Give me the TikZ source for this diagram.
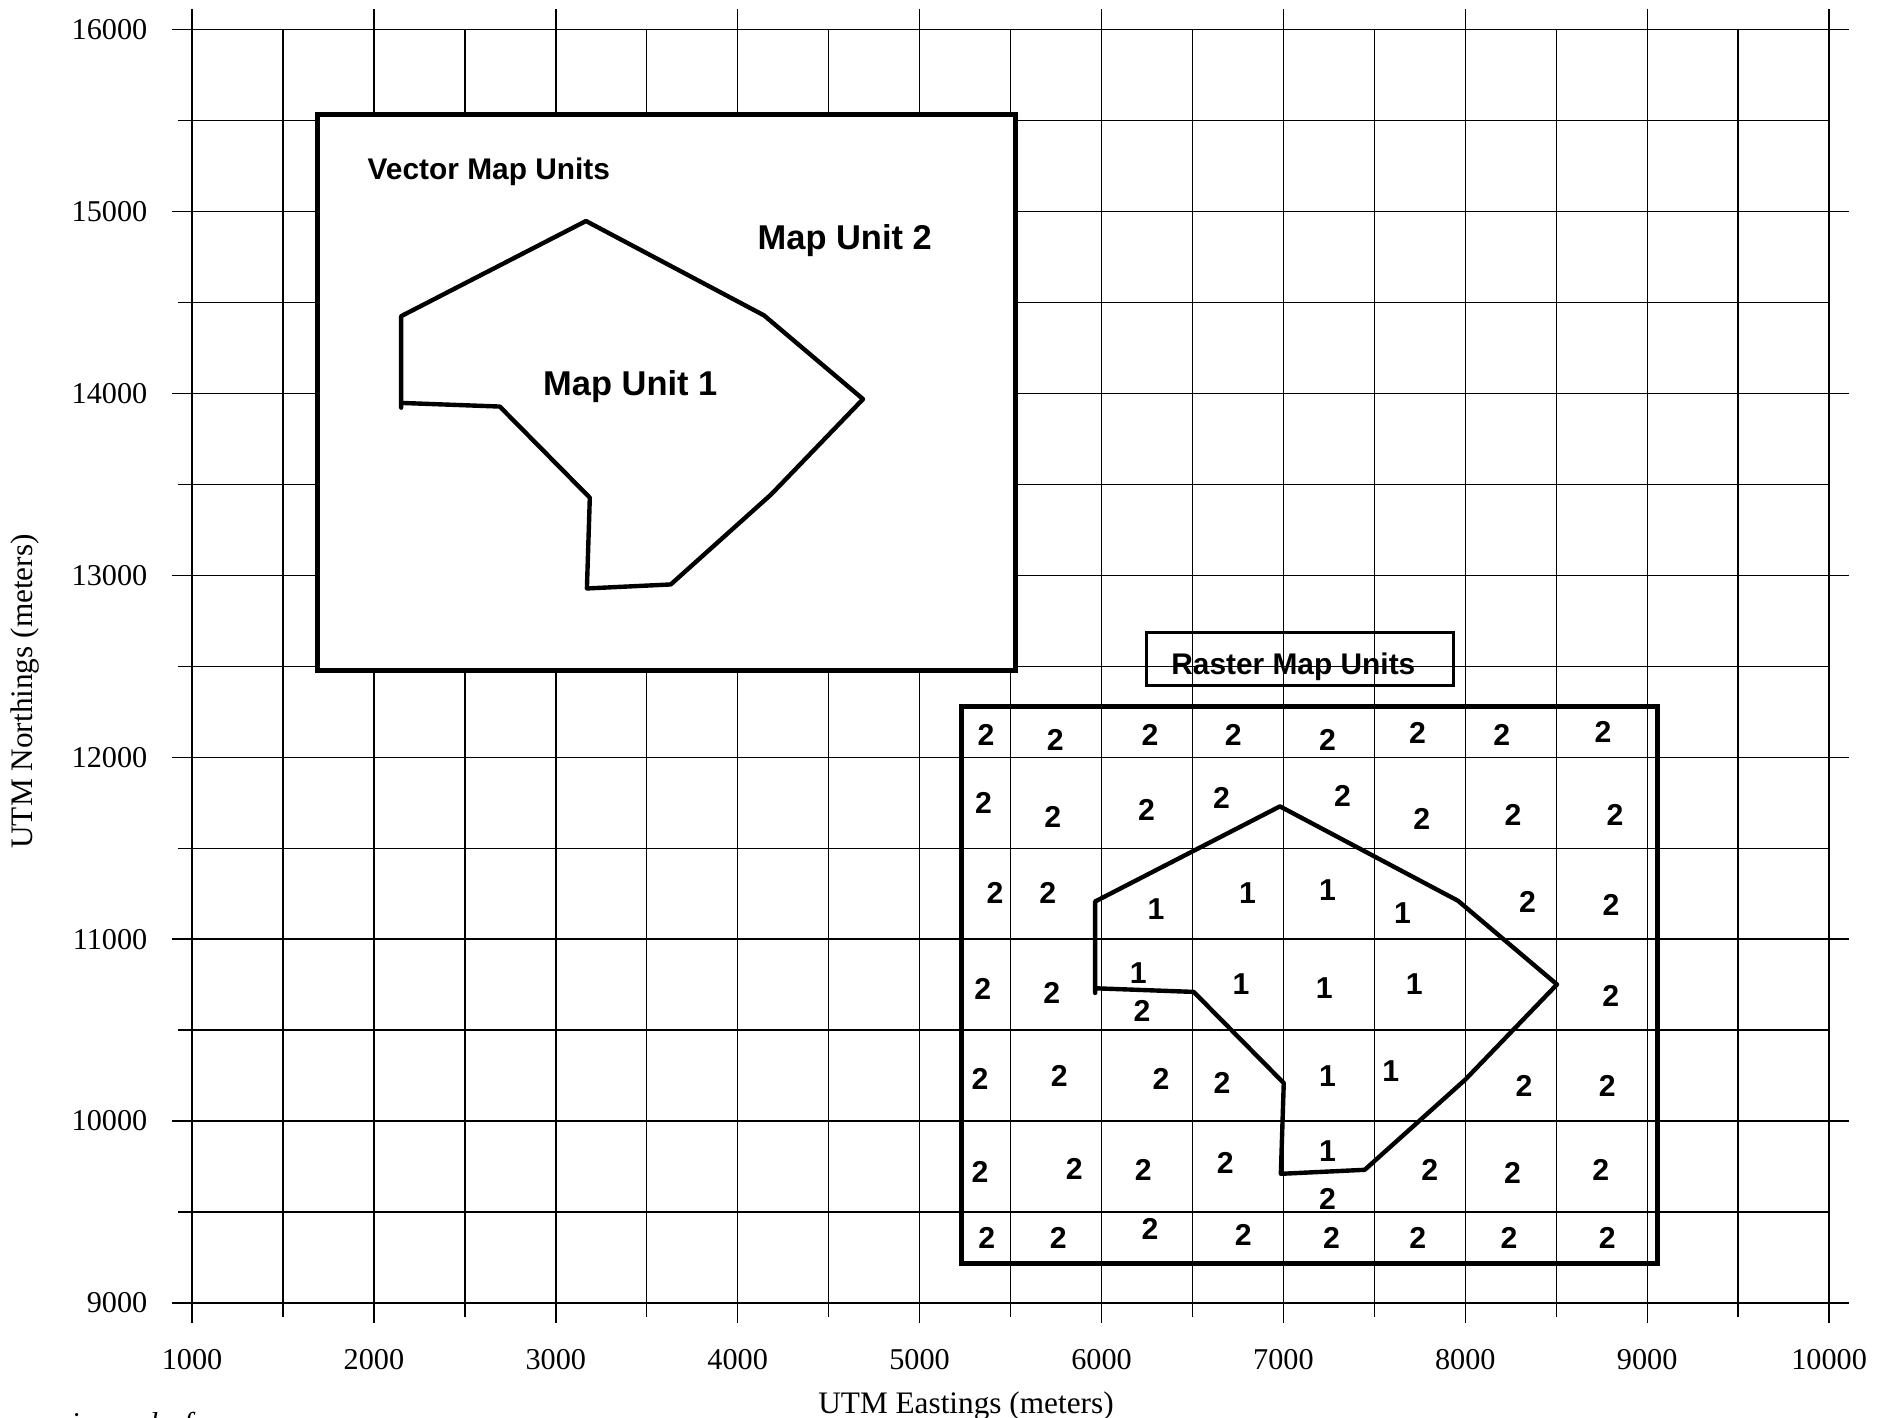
\documentclass[tikz,border=0pt]{standalone}
\usepackage{fontspec}
\setmainfont{Liberation Serif}
\newfontfamily\arialfont{Liberation Sans}
\begin{document}
\begin{tikzpicture}[x=1.819cm,y=1.819cm,
  grid/.style={line width=0.4pt,black},
  axisline/.style={line width=0.65pt,black},
  thickbox/.style={line width=1.5pt,line join=miter},
  polyline/.style={line width=1.25pt,line join=round,line cap=round},
  ticklab/.style={font=\fontsize{8.6pt}{10pt}\selectfont,inner sep=0pt},
  axtitle/.style={font=\fontsize{8.9pt}{10pt}\selectfont,inner sep=0pt},
  lab/.style={font=\arialfont\bfseries\fontsize{8.5pt}{10pt}\selectfont,inner sep=0pt},
  biglab/.style={font=\arialfont\bfseries\fontsize{9.8pt}{11pt}\selectfont,inner sep=0pt},
  dig/.style={font=\arialfont\bfseries\fontsize{8.6pt}{10pt}\selectfont,inner sep=0pt},
  cutlab/.style={font=\itshape\fontsize{8.6pt}{10pt}\selectfont,inner sep=0pt,anchor=base},
  mupoly/.pic={
    \draw[polyline] (2.150,13.922) -- (2.150,14.425) -- (3.166,14.948) -- (4.145,14.429)
      -- (4.689,13.969) -- (4.184,13.445) -- (3.632,12.950) -- (3.171,12.928)
      -- (3.187,13.427) -- (2.692,13.928) -- (2.150,13.948);
  }
]
\useasboundingbox (-0.05552,8.3678) rectangle (10.4118,16.1633);

% grid
\foreach \n in {9,...,16} \draw[grid] (0.89,\n) -- (10.11,\n);
\foreach \n in {9.5,10.5,...,15.5} \draw[grid] (0.923,\n) -- (10,\n);
\foreach \e in {1,...,10} \draw[grid] (\e,8.89) -- (\e,16.115);
\foreach \e in {1.5,2.5,...,9.5} \draw[grid] (\e,8.923) -- (\e,16);
\draw[axisline] (0.89,9) -- (10.11,9);
\draw[axisline] (1,8.89) -- (1,16.115);

% tick labels
\foreach \n in {9,...,16} \node[ticklab,anchor=east] (ylab\n) at (0.758,\n) {\n000};
\foreach \e in {1,...,10} \node[ticklab] (xlab\e) at (\e,8.6866) {\e000};

% axis titles
\node[axtitle,rotate=90] (ytitle) at (0.0819,12.362) {UTM Northings (meters)};
\node[axtitle] (xtitle) at (5.255,8.4355) {UTM Eastings (meters)};

% vector map
\draw[thickbox,fill=white] (1.691,12.478) rectangle (5.528,15.532);
\pic at (0,0) {mupoly};
\node[lab,anchor=base west] (vmu) at (1.962,15.176) {Vector Map Units};
\node[biglab,anchor=base west] (mu2) at (4.106,14.789) {Map Unit 2};
\node[biglab,anchor=base west] (mu1) at (2.927,13.991) {Map Unit 1};

% raster map
\draw[thickbox] (5.231,9.218) rectangle (9.058,12.278);
\pic at (3.815,-3.218) {mupoly};
\draw[line width=0.9pt] (6.249,12.394) rectangle (7.934,12.685);
\node[lab,anchor=base west] (rmu) at (6.380,12.4525) {Raster Map Units};

\coordinate (pxO) at (-0.05552,16.1633);
\begin{scope}[shift={(pxO)},x=0.01cm,y=-0.01cm]
\foreach \px/\py/\d [count=\i] in {
  986.7/735/2, 1056/740/2, 1150.7/735/2, 1234/735/2, 1328.3/740/2, 1418.3/733.3/2, 1502.7/735/2, 1604/732.7/2,
  984/803.3/2, 1053.3/817.3/2, 1147.3/810.7/2, 1222.3/798.3/2, 1343.3/796.7/2, 1422.7/819.3/2, 1514/815/2, 1616/815/2,
  995.7/894/2, 1048.3/894/2, 1156.7/910/1, 1248.3/893.3/1, 1328.3/890.7/1, 1403.3/913.3/1, 1528.5/903/2, 1612/906/2,
  983.3/990/2, 1052.3/993.3/2, 1139/974/1, 1142.7/1011.7/2, 1241.7/985/1, 1325/988.3/1, 1415/985/1, 1611.7/996.7/2,
  980.7/1080/2, 1060/1076.7/2, 1161.7/1080/2, 1222.7/1083.3/2, 1328.3/1076.7/1, 1391.7/1071.7/1, 1525/1086.7/2, 1608.3/1086.7/2,
  980.7/1172.7/2, 1075/1170/2, 1144/1170.7/2, 1226/1164/2, 1328.3/1151.7/1, 1328.3/1200/2, 1430.5/1170.7/2, 1513.3/1173.3/2, 1601.7/1170.7/2,
  987.3/1238.3/2, 1059/1238.3/2, 1150.7/1230/2, 1244/1236/2, 1332.3/1238.3/2, 1418.5/1238.3/2, 1510/1238.3/2, 1608.3/1238.3/2}
  \node[dig] (d\i) at (\px,\py) {\d};
% cut-off caption glyphs at the bottom edge, as in the reference
\node[cutlab] (cut1) at (75,1434) {i};
\node[cutlab] (cut2) at (150,1434) {d};
\node[cutlab] (cut3) at (188,1434) {f};
\end{scope}
\end{tikzpicture}
\end{document}
